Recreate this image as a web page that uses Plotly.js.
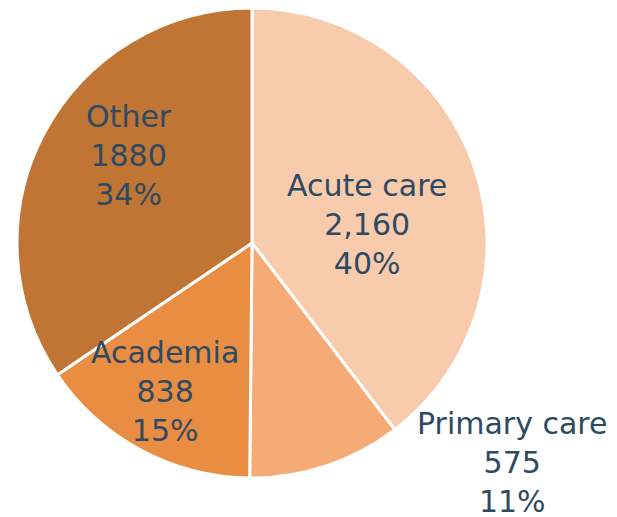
<!DOCTYPE html>
<html>
<head>
<meta charset="utf-8">
<script src="https://cdn.plot.ly/plotly-3.0.1.min.js"></script>
<style>html,body{margin:0;padding:0;background:#fff;}#chart{width:617px;height:517px;}</style>
</head>
<body>
<div id="chart"></div>
<script>
const categories = ["Acute care", "Primary care", "Academia", "Other"];
const values = [2160, 575, 838, 1880];
const valueLabels = ["2,160", "575", "838", "1880"];
const sliceColors = ["#F8CBAD", "#F6AA76", "#E98D42", "#C17535"];
const labelPos = [[0.5948, 0.5667], [0.8298, 0.1063], [0.2674, 0.2418], [0.2091, 0.6983]];

const total = values.reduce((a, b) => a + b, 0);
const fontSpec = {family: "DejaVu Sans", size: 30, color: "#2E4A62"};

const annotations = categories.map((c, i) => ({
  xref: "paper", yref: "paper",
  x: labelPos[i][0], y: labelPos[i][1],
  xanchor: "center", yanchor: "middle", align: "center",
  showarrow: false,
  text: c + "<br>" + valueLabels[i] + "<br>" + Math.round(values[i] / total * 100) + "%",
  font: fontSpec
}));

const trace = {
  type: "pie",
  labels: categories,
  values: values,
  sort: false,
  direction: "clockwise",
  rotation: 0,
  textinfo: "none",
  hoverinfo: "label+value+percent",
  marker: {colors: sliceColors, line: {color: "#FFFFFF", width: 3}},
  domain: {x: [17/617, 487/617], y: [39/517, 509/517]},
  showlegend: false
};

const layout = {
  width: 617, height: 517,
  margin: {l: 0, r: 0, t: 0, b: 0},
  paper_bgcolor: "#FFFFFF",
  showlegend: false,
  annotations: annotations
};

Plotly.newPlot("chart", [trace], layout, {displayModeBar: false, staticPlot: true});
</script>
</body>
</html>
